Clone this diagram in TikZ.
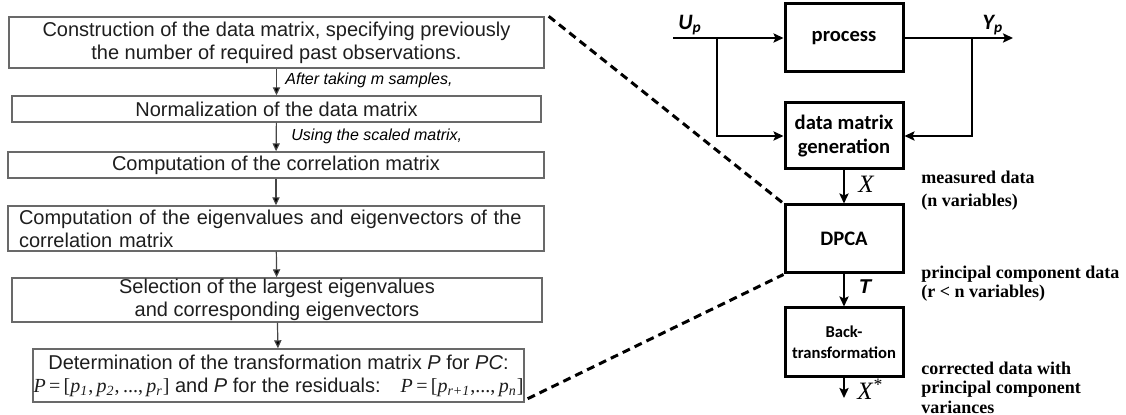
\documentclass[tikz,border=0pt]{standalone}
\usepackage{fontspec}
\setmainfont{Liberation Sans}
\newfontfamily\blocofonte{Carlito}
\newfontfamily\tmsfonte{Liberation Serif}
\usepackage{tikz}
\usetikzlibrary{arrows.meta}
\usetikzlibrary{positioning}
\definecolor{cinzalinha}{RGB}{105,105,105}
\definecolor{cinzaseta}{RGB}{70,70,70}
\definecolor{textoescuro}{RGB}{30,30,30}
\newcommand{\fm}[1]{{\tmsfonte\itshape #1}}
\newcommand{\fs}[1]{\textsubscript{\tmsfonte\itshape #1}}
\tikzset{
  caixa/.style={draw=cinzalinha, line width=0.7pt, minimum width=#1, inner sep=0pt, align=center, text=textoescuro, font=\fontsize{10}{11.5}\selectfont},
  caixa/.default=268pt,
  rotulo/.style={anchor=west, inner sep=0pt, font=\itshape\fontsize{8}{9}\selectfont},
  seta/.style={-{Triangle[length=4pt,width=3.6pt,fill=black]}, cinzaseta, line width=0.6pt},
  bloco/.style={draw, line width=1.5pt, minimum width=59pt, inner sep=0pt, align=center, font=\blocofonte\bfseries\fontsize{10.3}{12}\selectfont},
  sinal/.style={-{Stealth[length=5pt,width=4.6pt,inset=1pt]}, line width=1.25pt},
  nota/.style={anchor=west, inner sep=0pt, align=left, font=\tmsfonte\bfseries\fontsize{9}{#1}\selectfont},
  nota/.default=11.5pt,
  tracejado/.style={line width=1.5pt, dash pattern=on 4pt off 2.6pt},
}
\begin{document}
\begin{tikzpicture}[x=0.5pt, y=-0.5pt]
  \useasboundingbox (0,0) rectangle (1126,415);
  % fluxograma do DPCA
  \node[caixa=267.5pt, minimum height=25.5pt] (construcao) at (276.5,42.5) {Construction of the data matrix, specifying previously\\the number of required past observations.};
  \node[caixa=264.5pt, minimum height=13pt] (normalizacao) at (276.5,109) {Normalization of the data matrix};
  \node[caixa, minimum height=13pt] (correlacao) at (276,165) {Computation of the correlation matrix};
  \node[caixa, minimum height=22.5pt, align=left, text width=257pt] (autovalores) at (276,228.5) {Computation of the eigenvalues and eigenvectors of the\\correlation matrix};
  \node[caixa=265pt, minimum height=22pt] (selecao) at (277,300) {Selection of the largest eigenvalues\\and corresponding eigenvectors};
  \node[caixa=245.5pt, minimum height=26.5pt] (determinacao) at (278.5,375.5) {Determination of the transformation matrix \textit{P} for \textit{PC}:\\
    \fm{P}\,{\tmsfonte=}\,{\tmsfonte[}\fm{p}\fs{1}{\tmsfonte,}\,\fm{p}\fs{2}{\tmsfonte,}{\tmsfonte\,...,}\,\fm{p}\fs{r}{\tmsfonte]} and \textit{P} for the residuals:\quad \fm{P}\,{\tmsfonte=}\,{\tmsfonte[}\fm{p}\fs{r+1}{\tmsfonte,...,}\,\fm{p}\fs{n}{\tmsfonte]}};
  \foreach \a/\b in {construcao/normalizacao, normalizacao/correlacao, correlacao/autovalores, autovalores/selecao, selecao/determinacao}
    \draw[seta] (\a) -- (\b);
  \node[rotulo] (amostras) at (285,80) {After taking m samples,};
  \node[rotulo] (escalada) at (291,136) {Using the scaled matrix,};
  % diagrama de blocos
  \node[bloco, minimum height=34pt] (processo) at (844,38) {process};
  \node[bloco, minimum height=33pt, below=14pt of processo] (geracao) {data matrix\\generation};
  \node[bloco, minimum height=34pt, below=16.5pt of geracao] (dpca) {DPCA};
  \node[bloco, minimum height=34.5pt, below=16pt of dpca, font=\blocofonte\bfseries\fontsize{8.3}{10.5}\selectfont] (retro) {Back-\\transformation};
  \coordinate (entrada) at (673,38);
  \coordinate (derivU) at (717,38);
  \coordinate (derivY) at (972,38);
  \coordinate (saida) at (1013,38);
  \coordinate (final) at (844,398);
  \draw[sinal] (entrada) -- (processo);
  \draw[sinal] (derivU) |- (geracao);
  \draw[sinal] (processo) -- (saida);
  \draw[sinal] (derivY) |- (geracao);
  \draw[sinal] (geracao) -- (dpca);
  \draw[sinal] (dpca) -- (retro);
  \draw[sinal] (retro) -- (final);
  \node[font=\blocofonte\bfseries\itshape\fontsize{11}{11}\selectfont] (up) at (690,25) {U\textsubscript{p}};
  \node[font=\blocofonte\bfseries\itshape\fontsize{11}{11}\selectfont] (yp) at (993,25) {Y\textsubscript{p}};
  \node[font=\tmsfonte\itshape\fontsize{12.5}{12}\selectfont] (xlbl) at (866,184) {X};
  \node[font=\bfseries\itshape\fontsize{10}{10}\selectfont] (tlbl) at (865,287) {T};
  \node[font=\tmsfonte\itshape\fontsize{12.5}{12}\selectfont] (xest) at (870,389) {X\textsuperscript{*}};
  \node[nota] (medidos) at (921,190.5) {measured data\\(n variables)};
  \node[nota=9.6pt] (principais) at (921,283.5) {principal component data\\(r < n variables)};
  \node[nota=9.75pt] (corrigidos) at (921,387.5) {corrected data with\\principal component\\variances};
  % linhas de ampliacao
  \draw[tracejado] ([xshift=2pt]construcao.north east) -- (dpca.north west);
  \draw[tracejado] ([xshift=1.5pt,yshift=2pt]determinacao.south east) -- (dpca.south west);
\end{tikzpicture}
\end{document}
